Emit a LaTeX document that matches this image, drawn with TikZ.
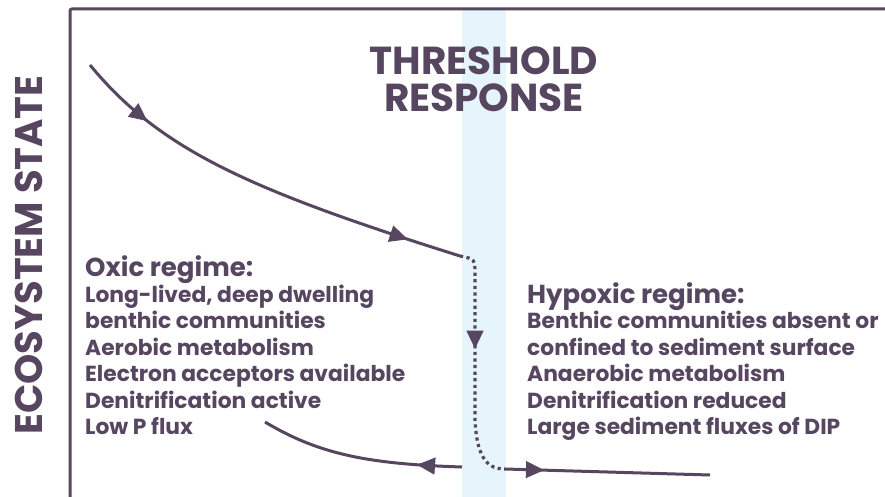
\documentclass[tikz,border=0pt]{standalone}
\usepackage{fontspec}
\setmainfont{Poppins}
\usetikzlibrary{arrows.meta,decorations.markings}
\definecolor{inkpurple}{HTML}{574660}
\definecolor{bandblue}{HTML}{E6F4FB}
\tikzset{
  axisline/.style={draw=inkpurple, line width=3pt, rounded corners=2pt},
  band/.style={fill=bandblue, draw=none},
  curve/.style={draw=inkpurple, line width=3pt},
  dotcurve/.style={draw=inkpurple, line width=3.2pt, dash pattern=on 3.2pt off 3.4pt},
  midtip/.style={postaction={decorate, decoration={markings,
    mark=at position #1 with {\arrow[inkpurple, line width=1pt]{Triangle[length=18pt,width=17pt]}}}}},
  ttl/.style={font=\fontsize{39}{39}\selectfont\bfseries, text=inkpurple, inner sep=0pt, anchor=base},
  ylbl/.style={font=\fontsize{38.5}{39}\selectfont\bfseries, text=inkpurple, inner sep=0pt, rotate=90, anchor=base},
  head/.style={font=\fontsize{26}{26}\selectfont\bfseries, text=inkpurple, inner sep=0pt, anchor=base west},
  body/.style={font=\fontsize{21.8}{22}\selectfont\bfseries, text=inkpurple, inner sep=0pt, anchor=base west},
}
\begin{document}
\begin{tikzpicture}[x=1pt,y=-1pt]
  \useasboundingbox (0,0) rectangle (885,497);
  \fill[band] (462,9) rectangle (506,497);
  \draw[axisline] (70,497) -- (70,9) -- (885,9);
  \node[ttl] (title1) at (484,75) {THRESHOLD};
  \node[ttl] (title2) at (484,112) {RESPONSE};
  \node[ylbl] (ylabel) at (42,255) {ECOSYSTEM STATE};
  \node[head] (oxichead) at (85,276) {Oxic regime:};
  \node[body] (oxic1) at (85,302) {Long-lived, deep dwelling};
  \node[body] (oxic2) at (85,328.5) {benthic communities};
  \node[body] (oxic3) at (85,355) {Aerobic metabolism};
  \node[body] (oxic4) at (85,381.5) {Electron acceptors available};
  \node[body] (oxic5) at (85,408) {Denitrification active};
  \node[body] (oxic6) at (85,434.5) {Low P flux};
  \node[head] (hypohead) at (527,303) {Hypoxic regime:};
  \node[body] (hypo1) at (527,328.5) {Benthic communities absent or};
  \node[body] (hypo2) at (527,355) {confined to sediment surface};
  \node[body] (hypo3) at (527,381.5) {Anaerobic metabolism};
  \node[body] (hypo4) at (527,408) {Denitrification reduced};
  \node[body] (hypo5) at (527,434.5) {Large sediment fluxes of DIP};
  \coordinate (start) at (90,65);
  \coordinate (tip) at (460,256);
  \coordinate (bend) at (475,275);
  \coordinate (drop) at (475,420);
  \coordinate (floor) at (505,469);
  \coordinate (farright) at (710,475);
  \coordinate (bandleft) at (462,467);
  \coordinate (lowend) at (265,422);
  \draw[curve, midtip=0.19, midtip=0.87] (start) .. controls (160,150) and (250,190) .. (tip);
  \draw[dotcurve, midtip=0.43] (tip) .. controls (475,259) .. (bend) -- (drop) .. controls (477,462) and (490,469) .. (floor);
  \draw[curve, midtip=0.19] (floor) -- (farright);
  \draw[curve, midtip=0.22] (bandleft) .. controls (370,464) and (320,455) .. (lowend);
\end{tikzpicture}
\end{document}
